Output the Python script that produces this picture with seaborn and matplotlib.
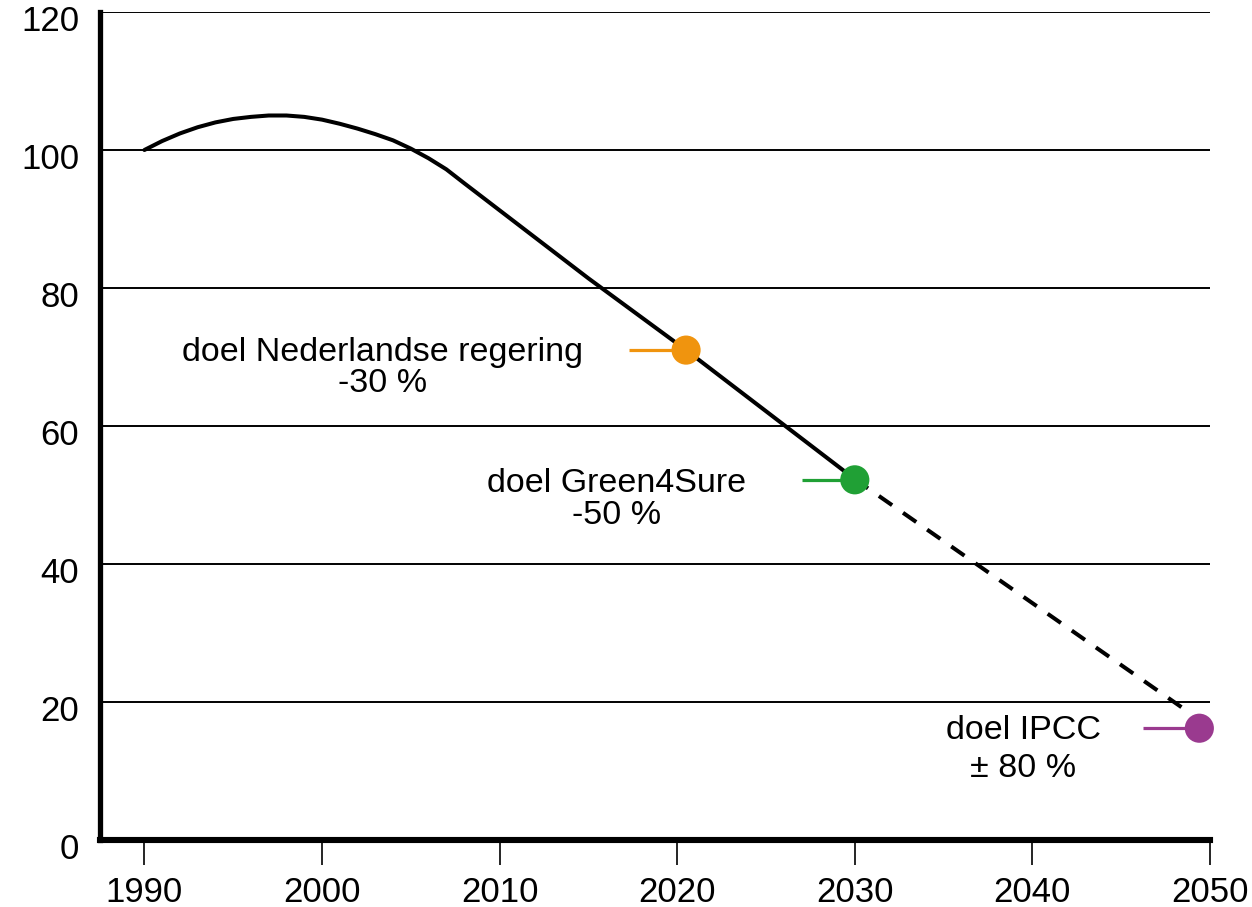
import matplotlib
matplotlib.use("Agg")
import matplotlib.pyplot as plt
import matplotlib.transforms as mtransforms
import seaborn as sns
import pandas as pd

# data
curve_years = [1990, 1991, 1992, 1993, 1994, 1995, 1996, 1997, 1998, 1999, 2000, 2001, 2002,
               2003, 2004, 2005, 2006, 2007, 2008, 2015, 2020.5, 2030]
curve_values = [100, 101.3, 102.4, 103.3, 104.0, 104.5, 104.8, 105.0, 105.0, 104.8, 104.4, 103.8,
                103.1, 102.3, 101.4, 100.2, 98.8, 97.2, 95.2, 81.4, 71, 52.3]
dash_years = [2030, 2048.7]
dash_values = [52.3, 18.7]
target_labels = ["doel Nederlandse regering\n-30 %", "doel Green4Sure\n-50 %", "doel IPCC\n\u00b1 80 %"]
target_years = [2020.5, 2030.0, 2049.4]
target_values = [71, 52.2, 16.2]
target_colors = ["#F0940E", "#20A035", "#9A3A8F"]
x_ticks = [1990, 2000, 2010, 2020, 2030, 2040, 2050]
y_ticks = [0, 20, 40, 60, 80, 100, 120]

sns.set_style("white")
plt.rcParams['font.family'] = ['Liberation Sans', 'DejaVu Sans']
plt.rcParams['text.color'] = 'black'
plt.rcParams['xtick.color'] = 'black'
plt.rcParams['ytick.color'] = 'black'

fig = plt.figure(figsize=(12.52, 9.07), dpi=100)
ax = fig.add_axes([100/1252, 1-840/907, 1110/1252, 828/907])

solid = pd.DataFrame({"year": curve_years, "value": curve_values})
dashed = pd.DataFrame({"year": dash_years, "value": dash_values})
sns.lineplot(data=solid, x="year", y="value", ax=ax, color="black", linewidth=2.9, zorder=3)
sns.lineplot(data=dashed, x="year", y="value", ax=ax, color="black", linewidth=2.9,
             linestyle=(0, (4, 3.3)), zorder=3)

whisker = [3.2, 3.0, 3.2]
for yr, v, c, w in zip(target_years, target_values, target_colors, whisker):
    ax.plot([yr - w, yr], [v, v], color=c, linewidth=2.3, zorder=4, solid_capstyle='butt', clip_on=False)
    tgt = pd.DataFrame({"year": [yr], "value": [v]})
    sns.scatterplot(data=tgt, x="year", y="value", ax=ax, color=c, s=440, edgecolor="none",
                    zorder=5, clip_on=False)

text_pos = [(2003.4, 70.7, 66.2), (2016.6, 51.7, 47.0), (2039.5, 15.8, 10.3)]
for lab, (tx, y1, y2) in zip(target_labels, text_pos):
    l1, l2 = lab.split("\n")
    ax.text(tx, y1, l1, ha="center", va="center", fontsize=24.5)
    ax.text(tx, y2, l2, ha="center", va="center", fontsize=24.5)

ax.set_xlim(1987.5, 2050)
ax.set_ylim(0, 120)
ax.set_xticks(x_ticks)
ax.set_yticks(y_ticks)
ax.set_xticklabels([str(t) for t in x_ticks], fontsize=25)
ax.set_yticklabels([str(t) for t in y_ticks], fontsize=25)
ax.set_xlabel("")
ax.set_ylabel("")
for yv in y_ticks[1:]:
    ax.axhline(yv, color="black", linewidth=1.4, zorder=1)

for s in ["top", "right"]:
    ax.spines[s].set_visible(False)
ax.spines["left"].set_linewidth(3.8)
ax.spines["bottom"].set_linewidth(4.4)
ax.spines["left"].set_color("black")
ax.spines["bottom"].set_color("black")
ax.tick_params(axis="x", direction="out", length=18, width=1.2, color="black", pad=8, bottom=True)
ax.tick_params(axis="y", length=0, pad=15)

offset = mtransforms.ScaledTranslation(0, -6/100, fig.dpi_scale_trans)
for lab in ax.get_yticklabels():
    lab.set_transform(lab.get_transform() + offset)

fig.savefig("out.png", dpi=100, facecolor="white")
